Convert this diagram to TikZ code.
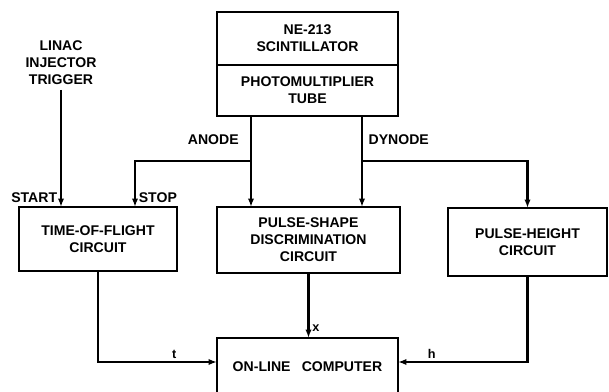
\documentclass[tikz,border=0pt]{standalone}
\usepackage{fontspec}
\setmainfont{Liberation Sans}
\usetikzlibrary{arrows.meta}

\begin{document}
\begin{tikzpicture}[x=0.025cm, y=-0.025cm,
  every node/.style={font=\fontsize{10}{12}\selectfont\bfseries, align=center},
  blk/.style={draw, line width=1.5pt, inner sep=2pt, outer sep=0pt},
  wire/.style={line width=1.5pt},
  sig/.style={line width=1.5pt, -{Latex[length=6pt, width=4.5pt]}},
  lbl/.style={font=\small\bfseries, inner sep=2pt}]
  \useasboundingbox (0,0) rectangle (609,392);
  \clip (0,0) rectangle (609,392);
  % detector head
  \node[blk, minimum width=4.525cm, minimum height=1.325cm] (scint) at (307.5,38.5) {NE-213\\SCINTILLATOR};
  \node[blk, minimum width=4.525cm, minimum height=1.275cm, anchor=north] (pmt) at (scint.south) {PHOTOMULTIPLIER\\TUBE};
  % circuits
  \node[blk, minimum width=3.95cm, minimum height=1.6cm] (tof) at (98,239) {TIME-OF-FLIGHT\\CIRCUIT};
  \node[blk, minimum width=4.575cm, minimum height=1.65cm] (psd) at (308.5,240) {PULSE-SHAPE\\DISCRIMINATION\\CIRCUIT};
  \node[blk, minimum width=3.975cm, minimum height=1.7cm] (ph) at (527.5,242) {PULSE-HEIGHT\\CIRCUIT};
  \node[blk, minimum width=4.525cm, minimum height=1.45cm] (comp) at (307.5,367) {ON-LINE\hspace{0.8em}COMPUTER};
  \node (trig) at (61,63) {LINAC\\INJECTOR\\TRIGGER};
  \coordinate (aj) at (251,161);
  \coordinate (dj) at (362,161);
  \coordinate (stop) at (135,161);
  \coordinate (trow) at (0,362);
  % signal lines
  \draw[sig] (trig.south) -- (trig.south |- tof.north) node[at end, above left, inner sep=2pt] {START};
  \draw[wire] (pmt.south -| aj) -- (aj) node[pos=0.53, left, inner sep=8pt] {ANODE};
  \draw[wire] (pmt.south -| dj) -- (dj) node[pos=0.53, right, inner sep=4pt] {DYNODE};
  \draw[sig] (aj) -- (aj |- psd.north);
  \draw[sig] (aj) -- (stop) -- (stop |- tof.north) node[at end, above right, inner sep=2pt] {STOP};
  \draw[sig] (dj) -- (dj |- psd.north);
  \draw[sig] (dj) -| (ph.north);
  \draw[sig] (tof.south) |- (comp.west |- trow) node[pos=0.82, above, lbl] {t};
  \draw[sig] (psd.south) -- (psd.south |- comp.north) node[pos=0.85, right, lbl] {x};
  \draw[sig] (ph.south) |- (comp.east |- trow) node[pos=0.87, above, lbl] {h};
\end{tikzpicture}
\end{document}
